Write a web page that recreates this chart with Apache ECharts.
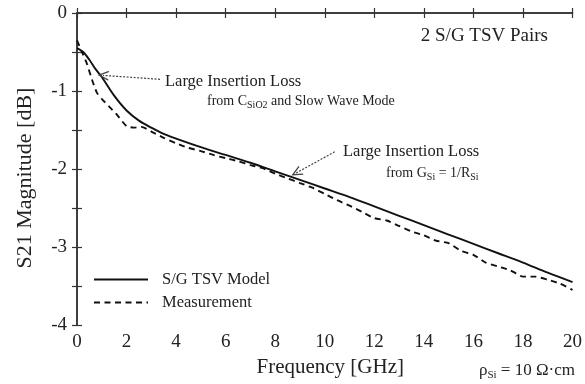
<!DOCTYPE html>
<html>
<head>
<meta charset="utf-8">
<script src="https://cdn.jsdelivr.net/npm/echarts@6/dist/echarts.min.js"></script>
<style>
  html, body { margin: 0; padding: 0; background: #fff; }
  #chart { width: 585px; height: 384px; }
</style>
</head>
<body>
<div id="chart"></div>
<script>
  // S/G TSV model (solid)
  var freqModel = [0, 0.25, 0.5, 0.75, 1, 1.5, 2, 2.5, 3, 3.5, 4, 5, 6, 7, 8, 9, 10, 11, 12, 13, 14, 15, 16, 17, 18, 19, 20];
  var s21Model = [-0.45, -0.5, -0.6, -0.72, -0.82, -1.06, -1.25, -1.38, -1.47, -1.55, -1.61, -1.72, -1.82, -1.92, -2.03, -2.14, -2.25, -2.36, -2.48, -2.6, -2.72, -2.84, -2.96, -3.08, -3.2, -3.33, -3.45];

  // measurement (dashed)
  var freqMeas = [0, 0.2, 0.4, 0.6, 0.8, 1, 1.3, 1.6, 2, 2.3, 2.6, 3, 3.5, 4, 4.5, 5, 5.5, 6, 6.5, 7, 7.5, 8, 8.5, 9, 9.5, 10, 10.5, 11, 11.5, 12, 12.5, 13, 13.5, 14, 14.5, 15, 15.5, 16, 16.5, 17, 17.5, 18, 18.5, 19, 19.5, 20];
  var s21Meas = [-0.35, -0.5, -0.65, -0.85, -1.02, -1.1, -1.2, -1.3, -1.45, -1.47, -1.46, -1.52, -1.6, -1.67, -1.73, -1.77, -1.82, -1.86, -1.9, -1.95, -1.99, -2.06, -2.12, -2.18, -2.24, -2.32, -2.4, -2.47, -2.55, -2.63, -2.66, -2.73, -2.8, -2.85, -2.92, -2.95, -3.05, -3.1, -3.2, -3.25, -3.3, -3.38, -3.38, -3.42, -3.47, -3.55];

  var seriesNames = ['S/G TSV Model', 'Measurement'];

  function pairs(xs, ys) {
    return xs.map(function (x, i) { return [x, ys[i]]; });
  }

  var serif = '"Liberation Serif", "DejaVu Serif", serif';
  var ink = '#222';
  var chevron = 'path://M5,0 L10,10 L8.6,10 L5,2.8 L1.4,10 L0,10 Z';
  var subStyle = { fontFamily: serif, fontSize: 10, lineHeight: 10, verticalAlign: 'bottom', fill: ink };

  var chart = echarts.init(document.getElementById('chart'));

  var options = {
    animation: false,
    backgroundColor: '#fff',
    grid: { left: 77, right: 11, top: 13, bottom: 59 },
    legend: {
      left: 88,
      top: 266,
      orient: 'vertical',
      itemWidth: 54,
      itemHeight: 14,
      itemGap: 6,
      data: seriesNames,
      itemStyle: { opacity: 0 },
      textStyle: { fontFamily: serif, fontSize: 16.5, color: ink, padding: [0, 0, 0, 9] }
    },
    xAxis: [
      {
        type: 'value',
        min: 0, max: 20, interval: 2,
        name: 'Frequency [GHz]',
        nameLocation: 'middle',
        nameGap: 32,
        nameTextStyle: { fontFamily: serif, fontSize: 21, color: ink, padding: [0, 0, 0, 11] },
        axisLine: { lineStyle: { color: '#333', width: 1.5 } },
        axisTick: { inside: true, length: 5, lineStyle: { color: '#333', width: 1.2 } },
        axisLabel: { fontFamily: serif, fontSize: 19, color: ink, margin: 8 },
        splitLine: { show: false }
      },
      {
        type: 'value', position: 'top',
        min: 0, max: 20, interval: 2,
        axisLine: { show: true, lineStyle: { color: '#333', width: 1.5 } },
        axisTick: { inside: true, length: 5, lineStyle: { color: '#333', width: 1.2 } },
        axisLabel: { show: false },
        splitLine: { show: false }
      }
    ],
    yAxis: [
      {
        type: 'value',
        min: -4, max: 0, interval: 0.5,
        name: 'S21 Magnitude [dB]',
        nameLocation: 'middle',
        nameGap: 41,
        nameTextStyle: { fontFamily: serif, fontSize: 22, color: ink, padding: [0, 18, 0, 0] },
        axisLine: { show: true, lineStyle: { color: '#333', width: 1.5 } },
        axisTick: { inside: true, length: 5, lineStyle: { color: '#333', width: 1.2 } },
        axisLabel: {
          fontFamily: serif, fontSize: 19, color: ink, margin: 10,
          formatter: function (v) { return Number.isInteger(v) ? String(v) : ''; }
        },
        splitLine: { show: false }
      },
      {
        type: 'value', position: 'right',
        min: -4, max: 0, interval: 0.5,
        axisLine: { show: true, lineStyle: { color: '#333', width: 1.5 } },
        axisTick: { inside: true, length: 5, lineStyle: { color: '#333', width: 1.2 } },
        axisLabel: { show: false },
        splitLine: { show: false }
      }
    ],
    series: [
      {
        name: seriesNames[0],
        type: 'line',
        symbol: 'none',
        smooth: 0.3,
        data: pairs(freqModel, s21Model),
        lineStyle: { color: '#111', width: 1.9, type: 'solid' },
        itemStyle: { color: '#111' },
        markLine: {
          silent: true,
          symbol: ['none', chevron],
          symbolSize: [10, 11],
          label: { show: false },
          lineStyle: { color: '#444', width: 1.2, type: [2, 1.5] },
          data: [
            [{ coord: [3.35, -0.85] }, { coord: [1.05, -0.8] }],
            [{ coord: [10.4, -1.78] }, { coord: [8.85, -2.05] }]
          ]
        }
      },
      {
        name: seriesNames[1],
        type: 'line',
        symbol: 'none',
        smooth: 0.2,
        data: pairs(freqMeas, s21Meas),
        lineStyle: { color: '#111', width: 1.9, type: [6, 4.5] },
        itemStyle: { color: '#111' }
      }
    ],
    graphic: [
      {
        type: 'text', right: 37, top: 27,
        style: { text: '2 S/G TSV Pairs', fontFamily: serif, fontSize: 19, fill: ink }
      },
      {
        type: 'text', left: 165, top: 73,
        style: { text: 'Large Insertion Loss', fontFamily: serif, fontSize: 16.5, fill: ink }
      },
      {
        type: 'text', left: 207, top: 92,
        style: {
          text: 'from C{s|SiO2} and Slow Wave Mode',
          fontFamily: serif, fontSize: 14, lineHeight: 18, fill: ink,
          rich: { s: subStyle }
        }
      },
      {
        type: 'text', left: 343, top: 143,
        style: { text: 'Large Insertion Loss', fontFamily: serif, fontSize: 16.5, fill: ink }
      },
      {
        type: 'text', left: 386, top: 164,
        style: {
          text: 'from G{s|Si} = 1/R{s|Si}',
          fontFamily: serif, fontSize: 14, lineHeight: 18, fill: ink,
          rich: { s: subStyle }
        }
      },
      {
        type: 'text', right: 10, top: 360,
        style: {
          text: '\u03C1{s|Si} = 10 \u03A9\u00B7cm',
          fontFamily: serif, fontSize: 17, lineHeight: 21, fill: ink,
          rich: { s: { fontFamily: serif, fontSize: 11, lineHeight: 11, verticalAlign: 'bottom', fill: ink } }
        }
      }
    ]
  };

  chart.setOption(options);
</script>
</body>
</html>
